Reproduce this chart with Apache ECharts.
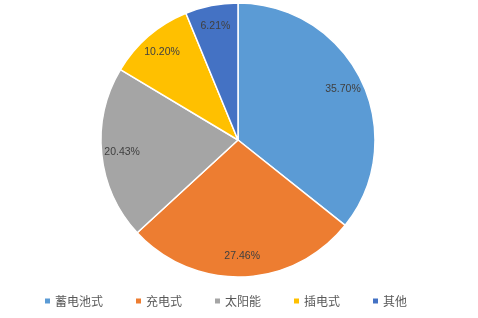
<!DOCTYPE html>
<html><head><meta charset="utf-8">
<script src="https://cdn.jsdelivr.net/npm/echarts@6/dist/echarts.min.js"></script>
<style>html,body{margin:0;padding:0;background:#fff}#c{width:478px;height:318px}</style>
</head><body><div id="c"></div>
<script>
const categories = ['蓄电池式','充电式','太阳能','插电式','其他'];
const values = [35.70, 27.46, 20.43, 10.20, 6.21];
const colors = ['#5B9BD5','#ED7D31','#A5A5A5','#FFC000','#4472C4'];
const data = categories.map((n,i)=>({name:n,value:values[i]}));
const chart = echarts.init(document.getElementById('c'));
chart.setOption({
  animation:false,
  color: colors,
  legend:{
    left:38, top:290, itemWidth:7, itemHeight:7, itemGap:31, icon:'rect',
    textStyle:{fontSize:12, color:'#595959', fontFamily:'Noto Sans CJK SC', padding:[0,0,0,-1]},
    data: categories
  },
  series:[
    {type:'pie', center:[238,140], radius:[0,137], startAngle:90, clockwise:true,
     data:data, label:{show:false}, labelLine:{show:false},
     itemStyle:{borderColor:'#fff', borderWidth:1.5}, emphasis:{disabled:true}},
    {type:'pie', center:[238,140], radius:[90,137], startAngle:90, clockwise:true,
     data:data, silent:true, itemStyle:{color:'rgba(0,0,0,0)', borderWidth:0},
     label:{show:true, position:'inside', formatter:p=>p.value.toFixed(2)+'%',
       fontSize:10.5, color:'#404040', fontFamily:'Liberation Sans'},
     labelLine:{show:false}, emphasis:{disabled:true}}
  ]
});
</script></body></html>
